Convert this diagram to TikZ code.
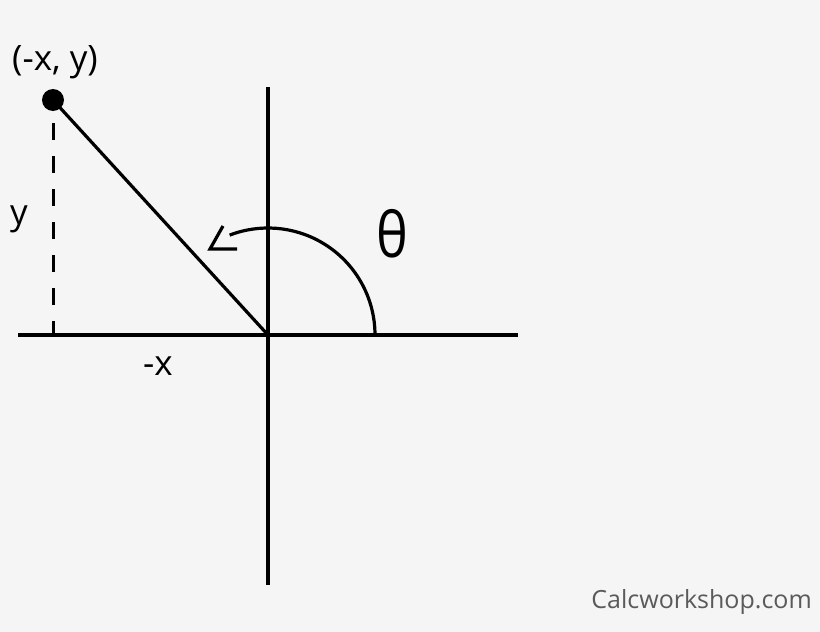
\documentclass[tikz,border=0pt]{standalone}
\usepackage{fontspec}
\setmainfont{Open Sans}
\usetikzlibrary{positioning}
\definecolor{bgcol}{HTML}{F5F5F5}
\definecolor{markgray}{HTML}{5A5A5A}
\tikzset
{
    axis/.style = {line width=3.2pt, black},
    ray/.style  = {line width=3.2pt, black},
    drop/.style = {line width=3pt, black, dash pattern=on 17pt off 16pt},
    dot/.style  = {circle, fill=black, inner sep=0pt, minimum size=22pt},
    lbl/.style  = {font=\fontsize{35}{38}\selectfont, inner sep=0pt}
}
\begin{document}
\begin{tikzpicture}[x=1pt, y=-1pt]
		\fill[bgcol] (0,0) rectangle (820,632);
		\useasboundingbox (0,0) rectangle (820,632);
		
		% axes
		\coordinate (O) at (268,335);
		\coordinate (xl) at (18,335);
		\coordinate (xr) at (518,335);
		\coordinate (yt) at (268,87);
		\coordinate (yb) at (268,585);
		\draw[axis] (xl) -- (xr);
		\draw[axis] (yt) -- (yb);
		
		% point and its legs
		\node[dot] (P) at (53,100) {};
		\coordinate (Pfoot) at (53,335);
		\draw[ray] (P.center) -- (O);
		\draw[drop] (P.south) ++(0,12) -- (Pfoot);
		\node[lbl] (Plbl) [above=10pt of P, xshift=2pt] {(-x, y)};
		\node[lbl] (ylbl) at (19,219) {y};
		\node[lbl] (xlbl) at (158,366) {-x};
		
		% angle
		\draw[ray] (O) ++(107,0) arc[start angle=0, end angle=-111, radius=107];
		\coordinate (tip) at (210,249);
		\draw[ray, line join=miter] (223,226) -- (tip) -- (237,249);
		\node[font=\fontsize{48}{52}\selectfont, inner sep=0pt, xscale=1.12, yscale=1.3] (theta) at (392,234) {θ};
		
		\node[font=\fontsize{25}{28}\selectfont, text=markgray, anchor=east, inner sep=0pt] (mark) at (812,602) {Calcworkshop.com};
		
\end{tikzpicture}
\end{document}
